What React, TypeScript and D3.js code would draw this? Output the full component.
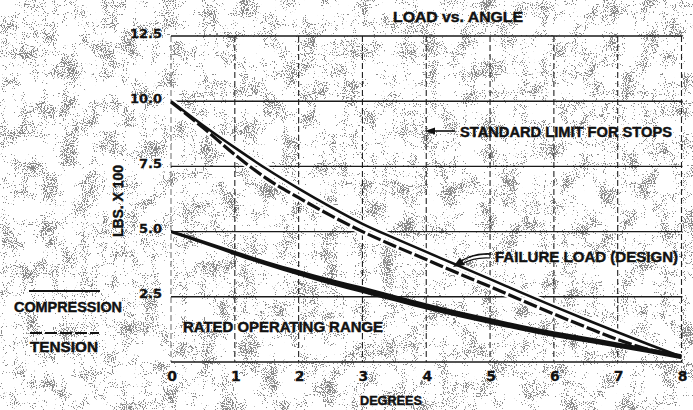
import React from "react";
import * as d3 from "d3";

const ANGLES = [0, 0.5, 1, 1.5, 2, 2.5, 3, 3.5, 4, 4.5, 5, 5.5, 6, 6.5, 7, 7.5, 8];
const COMPRESSION = [10.0, 9.08, 8.22, 7.4, 6.65, 5.95, 5.3, 4.75, 4.22, 3.7, 3.18, 2.65, 2.13, 1.63, 1.14, 0.66, 0.2];
const TENSION = [9.97, 8.99, 7.95, 7.03, 6.3, 5.62, 5.0, 4.45, 3.93, 3.4, 2.89, 2.36, 1.84, 1.34, 0.86, 0.47, 0.2];
const RATED = [5.0, 4.6, 4.18, 3.78, 3.42, 3.08, 2.77, 2.45, 2.13, 1.84, 1.57, 1.31, 1.07, 0.86, 0.65, 0.43, 0.2];

const X_TICKS = [0, 1, 2, 3, 4, 5, 6, 7, 8];
const Y_TICKS = [2.5, 5.0, 7.5, 10.0, 12.5];
const Y_TICK_LABELS = ["2.5", "5.0", "7.5", "10.0", "12.5"];

const TITLE = "LOAD vs. ANGLE";
const X_TITLE = "DEGREES";
const Y_TITLE = "LBS. X 100";
const NOTE_LIMIT = "STANDARD LIMIT FOR STOPS";
const NOTE_FAILURE = "FAILURE LOAD (DESIGN)";
const NOTE_RATED = "RATED OPERATING RANGE";
const LEGEND = ["COMPRESSION", "TENSION"];

const W = 693;
const H = 410;
const FONT = "'Liberation Sans', Arial, sans-serif";
const NUMFONT = "'DejaVu Sans', 'Liberation Sans', sans-serif";
const INK = "#111";

export default function App() {
  const x = d3.scaleLinear().domain([0, 8]).range([171, 681.5]);
  const y = d3.scaleLinear().domain([0, 12.5]).range([362, 36]);

  const comp = ANGLES.map((a, i) => [a, COMPRESSION[i]] as [number, number]);
  const tens = ANGLES.map((a, i) => [a, TENSION[i]] as [number, number]);
  const rated = ANGLES.map((a, i) => [a, RATED[i]] as [number, number]);

  const line = d3
    .line<[number, number]>()
    .x((d) => x(d[0]))
    .y((d) => y(d[1]))
    .curve(d3.curveMonotoneX);

  const thick = d3.scaleLinear().domain([0, 3, 8]).range([3.2, 6.5, 5]);
  const ratedArea = d3
    .area<[number, number]>()
    .x((d) => x(d[0]))
    .y0((d) => y(d[1]) - thick(d[0]) / 2)
    .y1((d) => y(d[1]) + thick(d[0]) / 2)
    .curve(d3.curveMonotoneX);

  const bold = { fontFamily: FONT, fontWeight: 700, fill: INK, stroke: INK, strokeWidth: 0.45 } as const;
  const boldNum = { fontFamily: NUMFONT, fontWeight: 700, fill: INK, stroke: INK, strokeWidth: 0.3 } as const;

  return (
    <svg
      width={W}
      height={H}
      viewBox={`0 0 ${W} ${H}`}
      style={{ position: "absolute", left: 0, top: 0, background: "#fff" }}
    >
      <defs>
        <filter id="stip" filterUnits="userSpaceOnUse" x="0" y="0" width={W} height={H}>
          <feTurbulence type="fractalNoise" baseFrequency="0.9" numOctaves="1" seed="4" result="f" />
          <feColorMatrix in="f" type="matrix" values="1 0 0 0 0  0 1 0 0 0  0 0 1 0 0  0 0 0 0 1" result="f1" />
          <feTurbulence type="fractalNoise" baseFrequency="0.05" numOctaves="3" seed="9" result="c" />
          <feColorMatrix in="c" type="matrix" values="1 0 0 0 0  0 1 0 0 0  0 0 1 0 0  0 0 0 0 1" result="c1" />
          <feComposite in="f1" in2="c1" operator="arithmetic" k1="0" k2="0.7" k3="0.45" k4="-0.075" result="s" />
          <feColorMatrix in="s" type="matrix" values="0 0 0 0 0.25  0 0 0 0 0.25  0 0 0 0 0.25  40 0 0 0 -23.8" />
        </filter>
      </defs>
      <rect x={0} y={0} width={W} height={H} fill="#fff" />
      <rect x={0} y={0} width={W} height={H} fill="#fff" filter="url(#stip)" />

      {/* vertical grid */}
      {X_TICKS.map((t) => (
        <line
          key={"v" + t}
          x1={x(t)}
          x2={x(t)}
          y1={y(12.5)}
          y2={y(0)}
          stroke={t === 0 ? "#777" : "#222"}
          strokeWidth={1.1}
          strokeDasharray="6,3"
        />
      ))}
      {/* horizontal grid */}
      {Y_TICKS.map((t) => (
        <line key={"h" + t} x1={x(0)} x2={x(8) + 1} y1={y(t)} y2={y(t)} stroke="#1a1a1a" strokeWidth={1.4} />
      ))}
      <line x1={x(0)} x2={x(8) + 1} y1={y(0)} y2={y(0)} stroke="#1a1a1a" strokeWidth={1.6} />

      {/* y tick labels */}
      {Y_TICKS.map((t, i) => (
        <text key={"yl" + t} x={162} y={y(t) + 1.5} fontSize={13} textAnchor="end" {...boldNum}>
          {Y_TICK_LABELS[i]}
        </text>
      ))}
      {/* x tick labels */}
      {X_TICKS.map((t) => (
        <text key={"xl" + t} x={x(t) + 1} y={381} fontSize={14} textAnchor="middle" {...boldNum}>
          {t}
        </text>
      ))}

      {/* white clearing around failure pair */}
      <path d={line(tens) || ""} fill="none" stroke="#fff" strokeWidth={7} />
      <path d={line(comp) || ""} fill="none" stroke="#fff" strokeWidth={7} />
      {/* curves */}
      <path d={line(tens) || ""} fill="none" stroke={INK} strokeWidth={3.2} strokeDasharray="14,3" />
      <path d={line(comp) || ""} fill="none" stroke={INK} strokeWidth={2.5} />
      <path d={ratedArea(rated) || ""} fill={INK} />

      {/* title & notes */}
      <text x={393} y={22} fontSize={15} textLength={130} lengthAdjust="spacingAndGlyphs" {...bold}>
        {TITLE}
      </text>
      <text x={460} y={137} fontSize={14.5} textLength={212} lengthAdjust="spacingAndGlyphs" {...bold}>
        {NOTE_LIMIT}
      </text>
      <line x1={455} x2={432} y1={131} y2={131} stroke={INK} strokeWidth={1.6} />
      <path d="M425,131 L435,127.5 L435,134.5 Z" fill={INK} />

      <text x={495} y={262} fontSize={15} textLength={183} lengthAdjust="spacingAndGlyphs" {...bold}>
        {NOTE_FAILURE}
      </text>
      <path d="M491,254 Q474,253 461,261" fill="none" stroke={INK} strokeWidth={1.6} />
      <path d="M490,258 Q474,257 462,264" fill="none" stroke={INK} strokeWidth={1.2} />
      <path d="M453,267 L460,257.5 L465,265 Z" fill={INK} />

      <text x={183} y={332} fontSize={15} textLength={200} lengthAdjust="spacingAndGlyphs" {...bold}>
        {NOTE_RATED}
      </text>

      {/* legend */}
      <line x1={29} x2={100} y1={291} y2={291} stroke={INK} strokeWidth={2} />
      <text x={14} y={312} fontSize={15} textLength={108} lengthAdjust="spacingAndGlyphs" {...bold}>
        {LEGEND[0]}
      </text>
      <line x1={30} x2={99} y1={333} y2={333} stroke={INK} strokeWidth={2} strokeDasharray="12,3" />
      <text x={30} y={352} fontSize={15} textLength={68} lengthAdjust="spacingAndGlyphs" {...bold}>
        {LEGEND[1]}
      </text>

      {/* axis titles */}
      <text x={360} y={405} fontSize={13.5} textLength={62} lengthAdjust="spacingAndGlyphs" {...bold}>
        {X_TITLE}
      </text>
      <text
        transform={`translate(123,237) rotate(-90)`}
        x={0}
        y={0}
        fontSize={15}
        textLength={72}
        lengthAdjust="spacingAndGlyphs"
        {...bold}
      >
        {Y_TITLE}
      </text>
    </svg>
  );
}
